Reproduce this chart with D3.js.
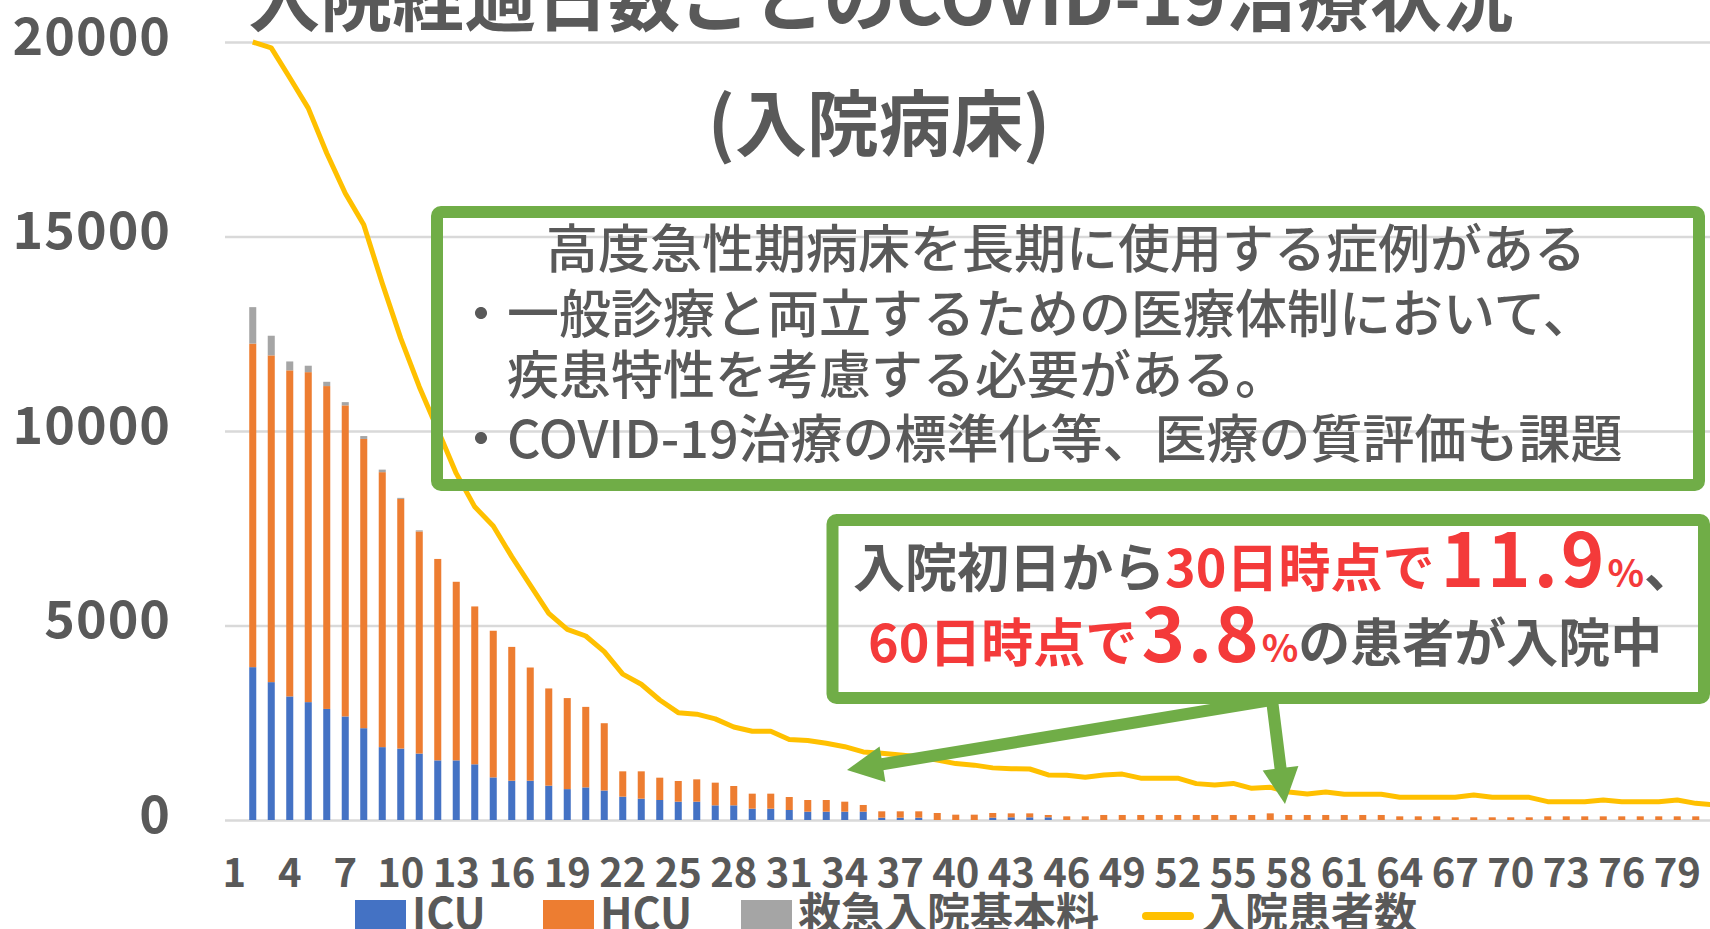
<!DOCTYPE html>
<html>
<head>
    <meta charset='utf-8'/>
    <title>入院経過日数ごとのCOVID-19治療状況</title>
    <style>
        body {
            margin: 0;
            background: #ffffff;
            overflow: hidden;
        }

        text {
            font-family: "Noto Sans CJK JP", "Noto Sans", sans-serif;
            fill: #595959;
        }

        .grid line {
            stroke: #d9d9d9;
            stroke-width: 2.5;
        }

        .ytick text {
            font-size: 52px;
            font-weight: 700;
            letter-spacing: 1px;
        }

        .xtick text {
            font-size: 40px;
            font-weight: 700;
        }

        .title {
            font-size: 72px;
            font-weight: 700;
        }

        .note {
            font-size: 52px;
            font-weight: 500;
        }

        .hl {
            font-size: 52px;
            font-weight: 700;
        }

        tspan.red {
            fill: #f43a3a;
        }

        .legend text {
            font-size: 43px;
            font-weight: 700;
        }
    </style>
</head>
<body>
<div id="chart"></div>

<script src="https://d3js.org/d3.v7.min.js"></script>
<script type="text/javascript">

    // category axis: label "1" has no data, day series starts at the 2nd band
    var days = [1, 2, 3, 4, 5, 6, 7, 8, 9, 10, 11, 12, 13, 14, 15, 16, 17, 18, 19, 20,
        21, 22, 23, 24, 25, 26, 27, 28, 29, 30, 31, 32, 33, 34, 35, 36, 37, 38, 39, 40,
        41, 42, 43, 44, 45, 46, 47, 48, 49, 50, 51, 52, 53, 54, 55, 56, 57, 58, 59, 60,
        61, 62, 63, 64, 65, 66, 67, 68, 69, 70, 71, 72, 73, 74, 75, 76, 77, 78, 79, 80, 81];

    var xTickLabels = [1, 4, 7, 10, 13, 16, 19, 22, 25, 28, 31, 34, 37, 40, 43, 46, 49, 52, 55,
        58, 61, 64, 67, 70, 73, 76, 79];

    var yTicks = [0, 5000, 10000, 15000, 20000];

    var icu = [null, 3929, 3544, 3177, 3030, 2855, 2662, 2360, 1873, 1836, 1708,
        1533, 1533, 1432, 1095, 1010, 1010, 882, 794, 838, 758,
        600, 548, 514, 471, 471, 377, 377, 291, 291, 257,
        214, 214, 214, 214, 60, 60, 60, 0, 0, 0,
        60, 69, 69, 69, 0, 0, 0, 0, 0, 0,
        0, 0, 0, 0, 0, 0, 0, 0, 0, 0,
        0, 0, 0, 0, 0, 0, 0, 0, 0, 0,
        0, 0, 0, 0, 0, 0, 0, 0, 0, 0];

    var hcu = [null, 8318, 8400, 8382, 8483, 8300, 7997, 7436, 7069, 6418, 5710,
        5178, 4591, 4058, 3770, 3440, 2910, 2500, 2340, 2070, 1730,
        651, 703, 574, 532, 574, 583, 497, 386, 386, 334,
        300, 300, 257, 172, 163, 163, 163, 180, 137, 137,
        120, 102, 102, 60, 94, 94, 129, 129, 129, 129,
        129, 129, 129, 129, 129, 171, 129, 129, 129, 129,
        129, 129, 94, 94, 94, 69, 69, 69, 69, 69,
        94, 94, 94, 94, 94, 94, 94, 94, 94, 94];

    var kyukyu = [null, 937, 505, 229, 165, 110, 83, 74, 65, 27, 28,
        0, 0, 0, 0, 0, 0, 0, 0, 0, 0,
        0, 0, 0, 0, 0, 0, 0, 0, 0, 0,
        0, 0, 0, 0, 0, 0, 0, 0, 0, 0,
        0, 0, 0, 0, 0, 0, 0, 0, 0, 0,
        0, 0, 0, 0, 0, 0, 0, 0, 0, 0,
        0, 0, 0, 0, 0, 0, 0, 0, 0, 0,
        0, 0, 0, 0, 0, 0, 0, 0, 0, 0];

    var patients = [null, 20000, 19850, 19080, 18300, 17140, 16110, 15300, 13800, 12380, 11140,
        10030, 8910, 8050, 7560, 6770, 6040, 5310, 4900, 4730, 4330,
        3750, 3490, 3085, 2760, 2720, 2600, 2390, 2280, 2280, 2070,
        2045, 1971, 1885, 1750, 1714, 1671, 1628, 1542, 1450, 1410,
        1340, 1320, 1311, 1160, 1150, 1100, 1155, 1180, 1075, 1075,
        1075, 935, 900, 940, 814, 840, 720, 668, 720, 660,
        660, 660, 583, 583, 583, 583, 643, 583, 583, 583,
        471, 471, 471, 514, 471, 471, 471, 514, 428, 390];

    var seriesKeys = ["ICU", "HCU", "救急入院基本料"];
    var seriesColors = {"ICU": "#4472c4", "HCU": "#ed7d31", "救急入院基本料": "#a5a5a5"};
    var lineName = "入院患者数";
    var lineColor = "#ffc000";

    var titleLines = ["入院経過日数ごとのCOVID-19治療状況", "(入院病床)"];

    // dims
    var svg_dx = 1710,
        svg_dy = 929,
        plot_left = 225,
        plot_right = 1710,
        step = 18.5;

    var x = d3.scaleBand()
        .domain(days)
        .range([plot_left, plot_left + days.length * step])
        .paddingInner(0.62)
        .paddingOuter(0.31);

    var y = d3.scaleLinear()
        .domain([0, 20000])
        .range([820, 42]);

    var svg = d3.select("#chart")
        .append("svg")
        .attr("width", svg_dx)
        .attr("height", svg_dy);

    /* gridlines + y labels */
    var yAxis = svg.append("g")
        .attr("class", "grid ytick")
        .attr("transform", "translate(" + plot_left + ",0)")
        .call(d3.axisLeft(y)
            .tickValues(yTicks)
            .tickFormat(d3.format("d"))
            .tickSize(-(plot_right - plot_left))
            .tickPadding(54));
    yAxis.select(".domain").remove();
    yAxis.selectAll("text").attr("dy", 12);

    /* x labels */
    var xAxis = svg.append("g")
        .attr("class", "xtick")
        .attr("transform", "translate(0,820)")
        .call(d3.axisBottom(x)
            .tickValues(xTickLabels)
            .tickSize(0));
    xAxis.select(".domain").remove();
    xAxis.selectAll("text").attr("y", 67).attr("dy", 0);

    /* stacked bars */
    var table = days.map(function (d, i) {
        return {day: d, "ICU": icu[i], "HCU": hcu[i], "救急入院基本料": kyukyu[i]};
    }).filter(function (row) {
        return row["ICU"] !== null;
    });

    var stacked = d3.stack().keys(seriesKeys)(table);

    svg.append("g")
        .attr("id", "bars")
        .selectAll("g")
        .data(stacked)
        .enter()
        .append("g")
        .attr("fill", d => seriesColors[d.key])
        .selectAll("rect")
        .data(d => d)
        .enter()
        .append("rect")
        .attr("x", d => x(d.data.day))
        .attr("width", x.bandwidth())
        .attr("y", d => y(d[1]))
        .attr("height", d => Math.max(0, y(d[0]) - y(d[1])));

    /* patients line */
    var line = d3.line()
        .defined(d => d.v !== null)
        .x(d => x(d.day) + x.bandwidth() / 2)
        .y(d => y(d.v));

    svg.append("path")
        .datum(days.map((d, i) => ({day: d, v: patients[i]})))
        .attr("fill", "none")
        .attr("stroke", lineColor)
        .attr("stroke-width", 5)
        .attr("stroke-linejoin", "round")
        .attr("d", line);

    /* title */
    svg.append("text")
        .attr("class", "title")
        .attr("x", 881)
        .attr("y", 25)
        .attr("text-anchor", "middle")
        .text(titleLines[0]);

    svg.append("text")
        .attr("class", "title")
        .attr("x", 879)
        .attr("y", 150)
        .attr("text-anchor", "middle")
        .text(titleLines[1]);

    /* annotation boxes */
    var green = "#70ad47";

    svg.append("rect")
        .attr("x", 437)
        .attr("y", 212)
        .attr("width", 1262)
        .attr("height", 273)
        .attr("rx", 4)
        .attr("fill", "none")
        .attr("stroke", green)
        .attr("stroke-width", 12);

    svg.append("text").attr("class", "note")
        .attr("x", 1066).attr("y", 268).attr("text-anchor", "middle")
        .text("高度急性期病床を長期に使用する症例がある");
    svg.append("text").attr("class", "note")
        .attr("x", 455).attr("y", 333)
        .text("・一般診療と両立するための医療体制において、");
    svg.append("text").attr("class", "note")
        .attr("x", 507).attr("y", 394)
        .text("疾患特性を考慮する必要がある。");
    svg.append("text").attr("class", "note")
        .attr("x", 455).attr("y", 458)
        .text("・COVID-19治療の標準化等、医療の質評価も課題");

    // arrows from the second box
    function arrow(x1, y1, x2, y2) {
        var dx = x2 - x1, dy = y2 - y1,
            len = Math.sqrt(dx * dx + dy * dy),
            ux = dx / len, uy = dy / len,
            headLen = 36, headHalf = 18,
            bx = x2 - ux * headLen, by = y2 - uy * headLen;

        svg.append("line")
            .attr("x1", x1).attr("y1", y1)
            .attr("x2", bx + ux * 2).attr("y2", by + uy * 2)
            .attr("stroke", green)
            .attr("stroke-width", 12);

        svg.append("path")
            .attr("fill", green)
            .attr("d", "M" + x2 + "," + y2 +
                "L" + (bx - uy * headHalf) + "," + (by + ux * headHalf) +
                "L" + (bx + uy * headHalf) + "," + (by - ux * headHalf) + "Z");
    }

    arrow(1272, 700, 847, 770);
    arrow(1272, 700, 1285, 804);

    svg.append("rect")
        .attr("x", 832.5)
        .attr("y", 520)
        .attr("width", 871.5)
        .attr("height", 178)
        .attr("rx", 4)
        .attr("fill", "none")
        .attr("stroke", green)
        .attr("stroke-width", 12);

    var t1 = svg.append("text").attr("class", "hl").attr("x", 853).attr("y", 587);
    t1.append("tspan").text("入院初日から");
    t1.append("tspan").attr("class", "red").text("30日時点で");
    t1.append("tspan").attr("class", "red").attr("dx", 6)
        .style("font-size", "74px").style("letter-spacing", "3px").text("11.9");
    t1.append("tspan").attr("class", "red").style("font-size", "38px").text("%");
    t1.append("tspan").text("、");

    var t2 = svg.append("text").attr("class", "hl").attr("x", 868).attr("y", 662);
    t2.append("tspan").attr("class", "red").text("60日時点で");
    t2.append("tspan").attr("class", "red").attr("dx", 4)
        .style("font-size", "74px").style("letter-spacing", "3px").text("3.8");
    t2.append("tspan").attr("class", "red").style("font-size", "38px").text("%");
    t2.append("tspan").text("の患者が入院中");

    /* legend */
    var legend = svg.append("g").attr("class", "legend");
    var legendX = {"ICU": 355, "HCU": 543, "救急入院基本料": 741};

    seriesKeys.forEach(function (key) {
        legend.append("rect")
            .attr("x", legendX[key])
            .attr("y", 900)
            .attr("width", 51)
            .attr("height", 51)
            .attr("fill", seriesColors[key]);
        legend.append("text")
            .attr("x", legendX[key] + 57)
            .attr("y", 929)
            .text(key);
    });

    legend.append("line")
        .attr("x1", 1146).attr("x2", 1190)
        .attr("y1", 916).attr("y2", 916)
        .attr("stroke", lineColor)
        .attr("stroke-width", 8)
        .attr("stroke-linecap", "round");
    legend.append("text")
        .attr("x", 1202)
        .attr("y", 929)
        .text(lineName);

</script>

</body>
</html>
